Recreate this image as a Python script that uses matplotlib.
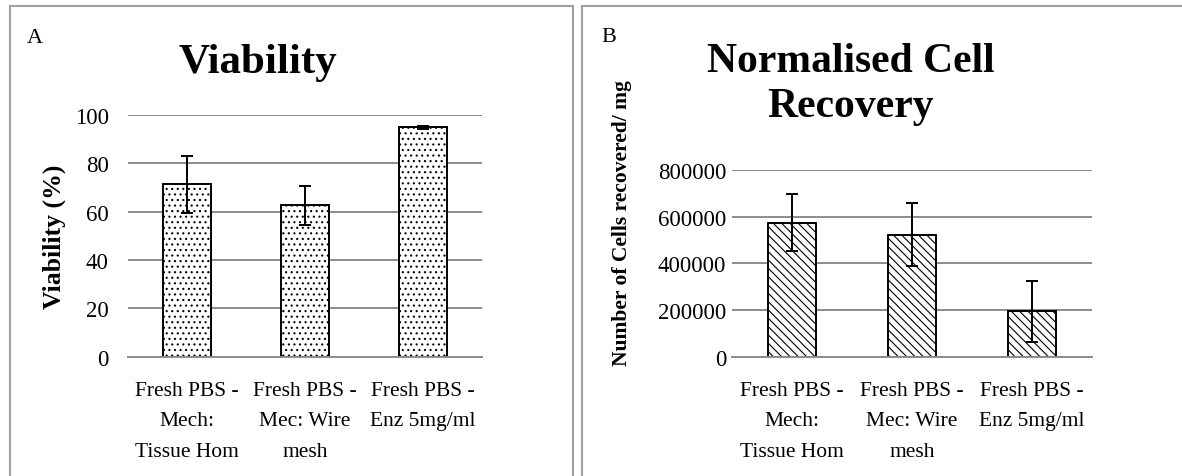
import matplotlib
matplotlib.use("Agg")
import matplotlib.pyplot as plt
from matplotlib.lines import Line2D

# ---- data ----
categories = ["Fresh PBS -\nMech:\nTissue Hom", "Fresh PBS -\nMec: Wire\nmesh", "Fresh PBS -\nEnz 5mg/ml"]
viability = [71.3, 62.6, 94.9]
viability_err = [11.8, 8.2, 0.7]
recovery = [575000, 523000, 194000]
recovery_err = [123000, 135000, 129500]
viab_ticks = [0, 20, 40, 60, 80, 100]
rec_ticks = [0, 200000, 400000, 600000, 800000]

plt.rcParams['font.family'] = ['Liberation Serif', 'DejaVu Serif']
plt.rcParams['hatch.linewidth'] = 0.8
plt.rcParams['hatch.color'] = 'black'

W, H = 1182, 477
fig = plt.figure(figsize=(W / 100, H / 100), dpi=100)

def fx(px):
    return px / W

def fy(py):
    return 1 - py / H

grid_col = '#8c8c8c'

def style_axes(ax, ticks, pad):
    ax.set_yticks(ticks)
    ax.set_yticklabels([str(t) for t in ticks], fontsize=16.5)
    ax.tick_params(axis='y', length=0, pad=pad)
    ax.tick_params(axis='x', length=0, pad=17.5)
    for s in ['top', 'right', 'left']:
        ax.spines[s].set_visible(False)
    ax.spines['bottom'].set_color(grid_col)
    ax.spines['bottom'].set_linewidth(1.4)
    ax.yaxis.grid(True, color=grid_col, linewidth=1.4)
    ax.set_axisbelow(True)
    ax.set_xlim(-0.5, 2.5)
    ax.set_xticks(range(len(categories)))
    ax.set_xticklabels(categories, fontsize=15.5, linespacing=1.82)

# ---- Panel A ----
axA = fig.add_axes([fx(128), fy(357.7), fx(482 - 128), (357.7 - 116) / H])
axA.bar(range(3), viability, width=0.41, color='white', edgecolor='black',
        linewidth=1.4, hatch='...', zorder=2)
axA.errorbar(range(3), viability, yerr=viability_err, fmt='none', ecolor='black',
             elinewidth=1.4, capsize=4, capthick=1.4, zorder=3)
axA.set_ylim(0, 100)
style_axes(axA, viab_ticks, 14)
fig.text(fx(54), fy(237), "Viability (%)", rotation=90, ha='center', va='center',
         fontsize=18.5, fontweight='bold')
fig.text(fx(258), fy(73), "Viability", ha='center', va='baseline',
         fontsize=31, fontweight='bold')
fig.text(fx(27), fy(43), "A", ha='left', va='baseline', fontsize=16)

# ---- Panel B ----
axB = fig.add_axes([fx(731.7), fy(357.7), fx(1092 - 731.7), (357.7 - 171) / H])
axB.bar(range(3), recovery, width=0.40, color='white', edgecolor='black',
        linewidth=1.4, hatch='\\\\\\\\', zorder=2)
axB.errorbar(range(3), recovery, yerr=recovery_err, fmt='none', ecolor='black',
             elinewidth=1.4, capsize=4, capthick=1.4, zorder=3)
axB.set_ylim(0, 800000)
style_axes(axB, rec_ticks, 4)
fig.text(fx(622), fy(223), "Number of Cells recovered/ mg", rotation=90,
         ha='center', va='center', fontsize=15.5, fontweight='bold')
fig.text(fx(851), fy(72), "Normalised Cell", ha='center', va='baseline',
         fontsize=30, fontweight='bold')
fig.text(fx(851), fy(117), "Recovery", ha='center', va='baseline',
         fontsize=30, fontweight='bold')
fig.text(fx(601), fy(42), "B", ha='left', va='baseline', fontsize=16)

# ---- panel borders ----
border_col = '#a0a0a0'
for xs, ys in [([10, 10], [490, 7]), ([10, 573], [7, 7]), ([573, 573], [7, 490]),
               ([582, 582], [490, 7]), ([582, 1190], [7, 7])]:
    fig.add_artist(Line2D([fx(x) for x in xs], [fy(y) for y in ys],
                          color=border_col, linewidth=1.5))

fig.savefig("out.png", dpi=100)
